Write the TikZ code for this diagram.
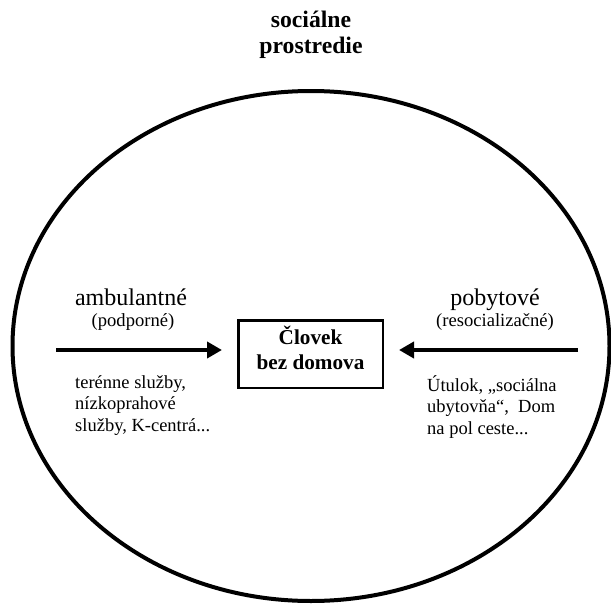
\documentclass[tikz,border=0pt]{standalone}
\usepackage{fontspec}
\setmainfont{Liberation Serif}
\usetikzlibrary{arrows.meta}

\begin{document}
\begin{tikzpicture}[x=1pt, y=-1pt,
        kind/.style={font=\fontsize{24}{28}\selectfont, anchor=base},
        subkind/.style={font=\fontsize{18.6}{22}\selectfont, anchor=base},
        examples/.style={font=\fontsize{18.5}{21.7}\selectfont, align=left, anchor=north west, inner sep=0pt},
        servicearrow/.style={line width=4.3pt, -{Triangle[length=15pt,width=16pt]}, shorten >=15pt}]
    \useasboundingbox (0,0) rectangle (611,605);

    % Draw the social environment as a big ellipse
    \draw[line width=4pt] (311,346) ellipse [x radius=298.5pt, y radius=255pt];
    \node[font=\bfseries\fontsize{23.7}{26}\selectfont, align=center] (env) at (311,35) {sociálne\\prostredie};

    % the person in the middle
    \node[draw, line width=2.5pt, minimum width=144.5pt, minimum height=67.5pt,
        font=\bfseries\fontsize{21.2}{25.5}\selectfont, align=center] (homeless) at (310.5,354)
        {Človek\\bez domova\rule[-12pt]{0pt}{12pt}};

    % Draw the left side (ambulant services)
    \node[kind] (amb) at (131,305) {ambulantné};
    \node[subkind] (ambsub) at (133,326) {(podporné)};
    \coordinate (ambstart) at (56,350);
    \draw[servicearrow] (ambstart) -- (ambstart -| homeless.west);
    \node[examples] (ambex) at (75,375) {terénne služby,\\nízkoprahové\\služby, K-centrá...};

    % Draw the right side (residential services)
    \node[kind] (pob) at (495,305) {pobytové};
    \node[subkind] (pobsub) at (495,326) {(resocializačné)};
    \coordinate (pobstart) at (578,350);
    \draw[servicearrow] (pobstart) -- (pobstart -| homeless.east);
    \node[examples] (pobex) at (427,375) {Útulok, „sociálna\\ubytovňa“, \ Dom\\na pol ceste...};
\end{tikzpicture}
\end{document}
